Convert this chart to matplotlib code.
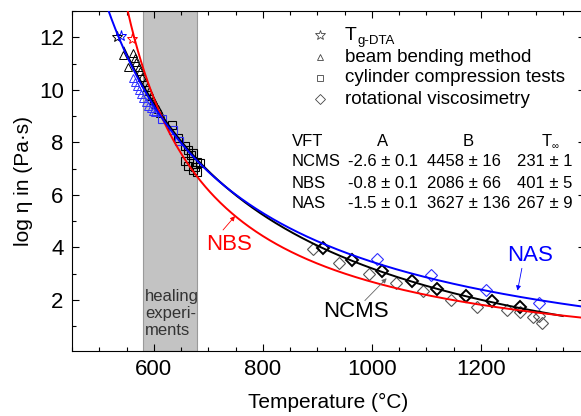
import numpy as np
import matplotlib
matplotlib.use("Agg")
import matplotlib.pyplot as plt
from matplotlib.ticker import MultipleLocator

plt.rcParams["font.family"] = ["Liberation Sans", "DejaVu Sans"]

# VFT parameters (A, B, T_inf)
glasses = ["NCMS", "NBS", "NAS"]
vft_A = [-2.6, -0.8, -1.5]
vft_B = [4458, 2086, 3627]
vft_T0 = [231, 401, 267]
vft_txt = [("-2.6 ± 0.1", "4458 ± 16", "231 ± 1"),
           ("-0.8 ± 0.1", "2086 ± 66", "401 ± 5"),
           ("-1.5 ± 0.1", "3627 ± 136", "267 ± 9")]
x_ticks = [600, 800, 1000, 1200]
y_ticks = [2, 4, 6, 8, 10, 12]

# T_g-DTA points
star_T = {"NCMS": [532], "NBS": [560], "NAS": [539]}
star_y = {"NCMS": [12.0], "NBS": [11.95], "NAS": [12.04]}

# beam bending
tri_ncms_T = [543, 553, 561, 565, 568, 572, 575, 579, 583, 587, 591, 595, 599, 603, 607, 611]
tri_ncms_y = [11.33, 10.87, 11.4, 11.2, 11.05, 10.85, 10.7, 10.5, 10.3, 10.1, 9.95, 9.75, 9.6, 9.45, 9.25, 9.1]
tri_nas_T = [562, 566, 569, 573, 577, 581, 585, 590, 595, 599, 602]
tri_nas_y = [10.44, 10.3, 10.15, 10.0, 9.85, 9.7, 9.55, 9.4, 9.3, 9.2, 9.17]

# cylinder compression
sq_ncms_T = [633, 645, 658, 662, 668, 672, 680, 684, 658, 663, 672, 680, 676]
sq_ncms_y = [8.65, 8.15, 7.86, 7.7, 7.5, 7.6, 7.25, 7.2, 7.3, 7.1, 6.95, 6.88, 7.05]
sq_nas_T = [615, 635, 647]
sq_nas_y = [8.9, 8.46, 8.05]

# rotational viscosimetry
dia_nbs_T = [892, 940, 994, 1045, 1094, 1145, 1193, 1247, 1271, 1296, 1307, 1312]
dia_nbs_y = [3.93, 3.42, 2.99, 2.63, 2.32, 2.0, 1.72, 1.62, 1.52, 1.34, 1.37, 1.11]
dia_ncms_T = [910, 963, 1018, 1073, 1120, 1172, 1221, 1271]
dia_ncms_y = [3.97, 3.52, 3.08, 2.72, 2.41, 2.15, 1.96, 1.71]
dia_nas_T = [1009, 1109, 1210, 1307]
dia_nas_y = [3.55, 2.95, 2.38, 1.87]

curve_range = {"NCMS": (545, 1350), "NBS": (552, 1390), "NAS": (516, 1390)}
colors = {"NCMS": "black", "NBS": "#FF0000", "NAS": "#0000FF"}

W, H = 581, 416
fig = plt.figure(figsize=(W / 100, H / 100), dpi=100)
ax = fig.add_axes([72 / W, 1 - 351 / H, 512.6 / W, 340 / H])

ax.axvspan(580, 680, facecolor="#C3C3C3", edgecolor="#9A9A9A", lw=0.8, zorder=0)

mk = dict(ls="none", mfc="none", zorder=2)
ax.plot(tri_ncms_T, tri_ncms_y, marker="^", ms=6, mec="black", mew=0.7, **mk)
ax.plot(tri_nas_T, tri_nas_y, marker="^", ms=6, mec="#3030FF", mew=0.7, **mk)
ax.plot(sq_ncms_T, sq_ncms_y, marker="s", ms=5.5, mec="black", mew=0.8, **mk)
ax.plot(sq_nas_T, sq_nas_y, marker="s", ms=5.5, mec="#3030FF", mew=0.8, **mk)
ax.plot(dia_nbs_T, dia_nbs_y, marker="D", ms=6, mec="#555555", mew=0.8, **mk)
ax.plot(dia_ncms_T, dia_ncms_y, marker="D", ms=6, mec="black", mew=1.4, **mk)
ax.plot(dia_nas_T, dia_nas_y, marker="D", ms=6, mec="#3030FF", mew=0.8, **mk)
for g in glasses:
    ax.plot(star_T[g], star_y[g], marker="*", ms=8, mec=colors[g], mew=0.7, **mk)

for g, a, b, t0 in zip(glasses, vft_A, vft_B, vft_T0):
    T = np.linspace(*curve_range[g], 400)
    ax.plot(T, a + b / (T - t0), color=colors[g], lw=1.4, zorder=3)

ax.set_xlim(450, 1390)
ax.set_ylim(0.05, 13)
ax.set_xticks(x_ticks)
ax.xaxis.set_minor_locator(MultipleLocator(50))
ax.set_yticks(y_ticks)
ax.yaxis.set_minor_locator(MultipleLocator(1))
ax.tick_params(which="both", direction="in", top=True, right=True, labelsize=16, pad=6)
ax.tick_params(which="major", length=5, width=0.8)
ax.tick_params(which="minor", length=3, width=0.8)
for s in ax.spines.values():
    s.set_linewidth(0.8)
ax.set_xlabel("Temperature (°C)", fontsize=15, labelpad=9)
ax.set_ylabel("log η in (Pa·s)", fontsize=15, labelpad=4)

# curve labels with arrows
ax.text(738, 4.09, "NBS", color="#FF0000", fontsize=16, ha="center", va="center")
ax.text(970, 1.56, "NCMS", color="black", fontsize=16, ha="center", va="center")
ax.text(1290, 3.67, "NAS", color="#0000FF", fontsize=16, ha="center", va="center")
arrows = [((727, 4.66), (749, 5.19), "#FF0000"),
          ((987, 1.97), (1027, 2.82), "#666666"),
          ((1275, 3.20), (1267, 2.35), "#0000FF")]
for tail, head, c in arrows:
    ax.annotate("", xy=head, xytext=tail,
                arrowprops=dict(arrowstyle="-|>", color=c, lw=0.6, mutation_scale=7,
                                shrinkA=0, shrinkB=0))

ax.text(584, 2.4, "healing\nexperi-\nments", fontsize=12, color="#333333",
        ha="left", va="top", linespacing=1.15)


def ftext(x, y, s, **kw):
    fig.text(x / W, 1 - y / H, s, **kw)


# legend
leg_y = [35, 57, 78, 99]
leg_m = ["*", "^", "s", "D"]
leg_ms = [7, 5, 4.5, 5]
for yy, m, ms in zip(leg_y, leg_m, leg_ms):
    fig.lines.append(plt.Line2D([320 / W], [1 - yy / H], marker=m, ms=ms, mfc="none",
                                mec="#444444", mew=0.6, transform=fig.transFigure))
ftext(345, 35, "T", fontsize=14, va="center")
ftext(357, 41, "g-DTA", fontsize=9.5, va="center")
ftext(345, 57, "beam bending method", fontsize=13.5, va="center")
ftext(345, 78, "cylinder compression tests", fontsize=13.5, va="center")
ftext(345, 99, "rotational viscosimetry", fontsize=13.5, va="center")

# VFT table
ts = 12
ftext(292, 142, "VFT", fontsize=ts, va="center")
ftext(383, 142, "A", fontsize=ts, va="center", ha="center")
ftext(468, 142, "B", fontsize=ts, va="center", ha="center")
ftext(547, 142, "T", fontsize=ts, va="center", ha="center")
ftext(552, 146, "∞", fontsize=7, va="center", ha="left")
for i, g in enumerate(glasses):
    yy = 162 + i * 21
    ftext(292, yy, g, fontsize=ts, va="center")
    for xx, s in zip([348, 427, 517], vft_txt[i]):
        ftext(xx, yy, s, fontsize=ts, va="center", ha="left")

fig.savefig("out.png", dpi=100)
